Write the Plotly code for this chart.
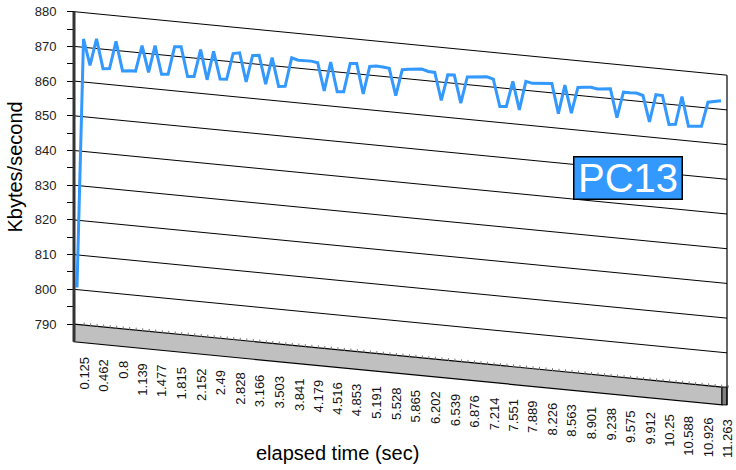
import plotly.graph_objects as go

# ---------------- data ----------------
time_labels = ["0.125", "0.462", "0.8", "1.139", "1.477", "1.815", "2.152", "2.49",
               "2.828", "3.166", "3.503", "3.841", "4.179", "4.516", "4.853", "5.191",
               "5.528", "5.865", "6.202", "6.539", "6.876", "7.214", "7.551", "7.889",
               "8.226", "8.563", "8.901", "9.238", "9.575", "9.912", "10.25", "10.588",
               "10.926", "11.263"]
label_every = 3  # one label every third sample

kbytes_per_sec = [
    800.6, 872.4, 865.0, 872.8, 864.4, 864.6, 872.6, 864.3, 864.5, 864.6,
    872.1, 864.6, 872.5, 864.4, 864.6, 872.7, 872.9, 864.5, 864.7, 872.6,
    864.1, 872.5, 864.7, 864.8, 872.4, 872.8, 864.6, 872.4, 872.6, 864.5,
    872.3, 864.2, 864.4, 872.8, 872.3, 872.4, 872.4, 872.1, 864.2, 872.7,
    864.3, 864.5, 872.8, 873.0, 864.4, 872.5, 872.8, 872.7, 872.5, 864.8,
    872.5, 872.8, 873.0, 873.2, 872.7, 872.6, 864.7, 872.3, 872.4, 864.5,
    872.2, 872.4, 872.6, 872.8, 872.3, 864.6, 864.8, 872.2, 864.2, 872.6,
    872.2, 872.4, 872.6, 872.7, 864.2, 872.6, 864.7, 872.3, 872.5, 872.7,
    872.4, 872.6, 872.8, 864.7, 872.2, 872.2, 872.3, 871.8, 864.4, 872.4,
    872.3, 864.2, 864.4, 872.6, 864.2, 864.4, 864.6, 871.7, 872.1, 872.5]

y_ticks = [790, 800, 810, 820, 830, 840, 850, 860, 870, 880]
y_minor_ticks = [795, 805, 815, 825, 835, 845, 855, 865, 875]
grid_values = [800, 810, 820, 830, 840, 850, 860, 870, 880]
floor_value = 790
series_name = "PC13"

# ---------------- geometry / style ----------------
W, H = 736, 470
ML, MR, MT, MB = 60, 4, 4, 60
PX_PER_IDX = 6.505      # horizontal pixels per sample
PX_PER_UNIT = 3.514     # vertical pixels per Kbyte/s
IDX0_PX = 77            # pixel x of first sample
WALL_L_PX, WALL_R_PX, FLOOR_END_PX = 74, 727, 722
TOP_PX = 6.7            # pixel y of 880 on the left wall
SHEAR_PX = 0.0985       # oblique drop (px down per px right)
FLOOR_DEPTH_PX = 18
LABEL_SHIFT = 1.1       # category labels sit slightly right of the samples
FONT = "Liberation Sans, Arial, sans-serif"
BLUE = "#3399FF"


def px_to_idx(px):
    return (px - IDX0_PX) / PX_PER_IDX


x_range = [px_to_idx(ML), px_to_idx(W - MR)]
y_top = y_ticks[-1] + (TOP_PX - MT) / PX_PER_UNIT
y_range = [y_top - (H - MT - MB) / PX_PER_UNIT, y_top]
wall_l = px_to_idx(WALL_L_PX)
wall_r = px_to_idx(WALL_R_PX)
floor_end = px_to_idx(FLOOR_END_PX)
shear = SHEAR_PX * PX_PER_IDX / PX_PER_UNIT
floor_bottom = floor_value - FLOOR_DEPTH_PX / PX_PER_UNIT


def sy(x, v):
    """oblique projection: value v at horizontal position x"""
    return v - shear * (x - wall_l)


fig = go.Figure()

# gridlines on the back wall
gx, gy = [], []
for v in grid_values:
    gx += [wall_l, wall_r, None]
    gy += [sy(wall_l, v), sy(wall_r, v), None]
fig.add_trace(go.Scatter(x=gx, y=gy, mode="lines",
                         line=dict(color="black", width=1), hoverinfo="skip"))

# floor front face
fig.add_trace(go.Scatter(
    x=[wall_l, floor_end, floor_end, wall_l, wall_l],
    y=[sy(wall_l, floor_value), sy(floor_end, floor_value),
       sy(floor_end, floor_bottom), sy(wall_l, floor_bottom), sy(wall_l, floor_value)],
    mode="lines", fill="toself", fillcolor="#C0C0C0",
    line=dict(color="black", width=1.2), hoverinfo="skip"))
# floor side face
fig.add_trace(go.Scatter(
    x=[floor_end, wall_r, wall_r, floor_end, floor_end],
    y=[sy(floor_end, floor_value), sy(floor_end, floor_value),
       sy(floor_end, floor_bottom), sy(floor_end, floor_bottom), sy(floor_end, floor_value)],
    mode="lines", fill="toself", fillcolor="#808080",
    line=dict(color="black", width=1), hoverinfo="skip"))
# small category marks on the floor edge
mx, my = [], []
for i in range(len(kbytes_per_sec)):
    xx = i + LABEL_SHIFT
    mx += [xx]
    my += [sy(xx, floor_value) + 0.3]
fig.add_trace(go.Scatter(x=mx, y=my, mode="markers",
                         marker=dict(symbol="line-ns", size=2,
                                     line=dict(color="#777", width=1)),
                         hoverinfo="skip"))

# right wall edge
fig.add_trace(go.Scatter(
    x=[wall_r, wall_r],
    y=[sy(wall_r, grid_values[-1]), sy(wall_r, floor_bottom)],
    mode="lines", line=dict(color="black", width=1.2), hoverinfo="skip"))

# data series
xs = list(range(len(kbytes_per_sec)))
fig.add_trace(go.Scatter(x=xs, y=[sy(x, v) for x, v in zip(xs, kbytes_per_sec)],
                         mode="lines", line=dict(color=BLUE, width=3),
                         name=series_name))

# left wall edge
fig.add_shape(type="line", xref="x", yref="y",
              x0=wall_l, x1=wall_l, y0=y_ticks[-1], y1=floor_bottom,
              line=dict(color="#333", width=3))

annotations = []
# category labels along the floor
for k, lab in enumerate(time_labels):
    xx = k * label_every + LABEL_SHIFT
    annotations.append(dict(
        x=xx, y=sy(xx, floor_bottom), xref="x", yref="y",
        text=lab, textangle=-90, showarrow=False,
        xanchor="center", yanchor="top", yshift=-12,
        font=dict(family=FONT, size=13, color="#111")))

plot_w = W - ML - MR
plot_h = H - MT - MB
# axis titles
annotations.append(dict(
    x=(15 - ML) / plot_w, y=(H - MB - 164.5) / plot_h, xref="paper", yref="paper",
    text="Kbytes/second", textangle=-90, showarrow=False,
    xanchor="center", yanchor="middle",
    font=dict(family=FONT, size=20, color="black")))
annotations.append(dict(
    x=(337 - ML) / plot_w, y=(H - MB - 453.5) / plot_h, xref="paper", yref="paper",
    text="elapsed time (sec)", showarrow=False,
    xanchor="center", yanchor="middle",
    font=dict(family=FONT, size=20, color="black")))
# series label box
annotations.append(dict(
    x=(628.3 - ML) / plot_w, y=(H - MB - 175.3) / plot_h, xref="paper", yref="paper",
    text=series_name, showarrow=False, xanchor="center", yanchor="middle",
    width=107, height=41, bgcolor=BLUE, bordercolor="black", borderwidth=1.5,
    borderpad=0, font=dict(family=FONT, size=40, color="white")))

fig.update_layout(
    width=W, height=H,
    margin=dict(l=ML, r=MR, t=MT, b=MB, pad=0),
    paper_bgcolor="white", plot_bgcolor="white",
    showlegend=False,
    xaxis=dict(range=x_range, visible=False, fixedrange=True),
    yaxis=dict(range=y_range, anchor="free",
               position=(WALL_L_PX - ML) / plot_w,
               tickmode="array", tickvals=y_ticks,
               ticktext=[str(v) for v in y_ticks],
               ticks="outside", ticklen=7, tickcolor="black", tickwidth=1,
               ticklabelstandoff=8, ticklabeloverflow="allow",
               minor=dict(tickvals=y_minor_ticks, ticks="outside", ticklen=7,
                          tickcolor="black", tickwidth=1, showgrid=False),
               showgrid=False, zeroline=False, showline=False,
               tickfont=dict(family=FONT, size=13, color="#222"),
               fixedrange=True),
    annotations=annotations,
)

fig.write_html("out.html")
